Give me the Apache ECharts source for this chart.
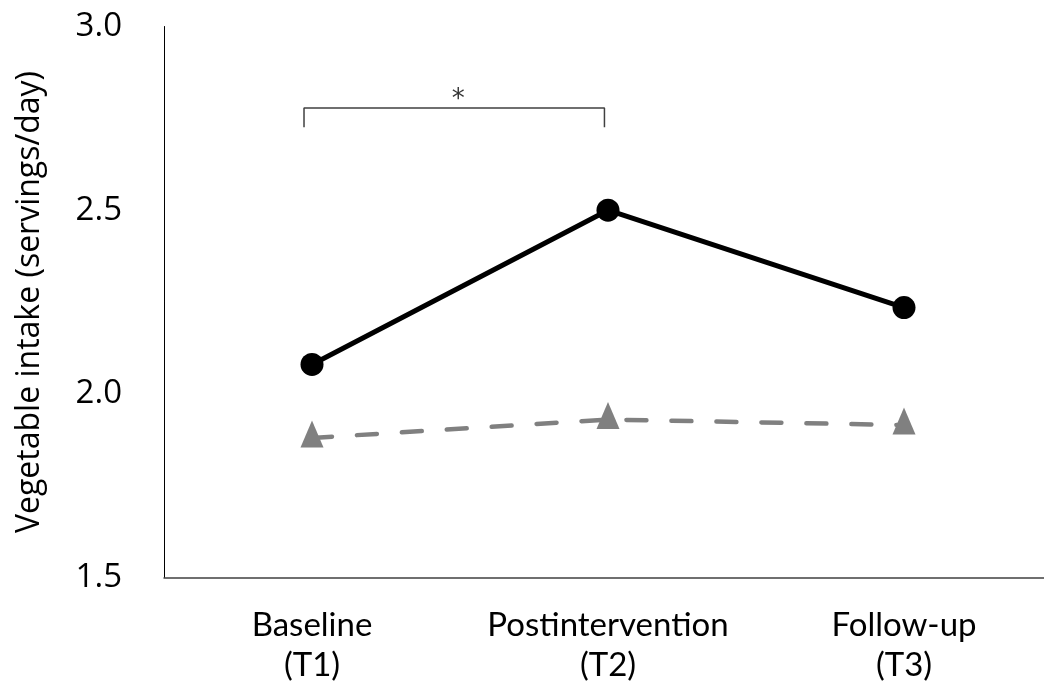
<!DOCTYPE html>
<html>
<head>
<meta charset="utf-8">
<script src="https://cdn.jsdelivr.net/npm/echarts@6/dist/echarts.min.js"></script>
<style>html,body{margin:0;padding:0;background:#fff}#c{width:1044px;height:693px}</style>
</head>
<body>
<div id="c"></div>
<script>
const categories = ['Baseline\n(T1)', 'Postintervention\n(T2)', 'Follow-up\n(T3)'];
const interventionValues = [2.08, 2.50, 2.235];
const controlValues = [1.88, 1.93, 1.915];
const yTicks = [1.5, 2.0, 2.5, 3.0];
const bracketX = [0.473, 1.488];
const bracketY = [2.726, 2.778];
const starPoint = [0.994, 2.80];
const yName = 'Vegetable intake (servings/day)';

const chart = echarts.init(document.getElementById('c'), null, {renderer: 'canvas'});
const sans = '"Open Sans", "Noto Sans", sans-serif';
const cat = 'Lato, "Noto Sans", sans-serif';
chart.setOption({
  animation: false,
  backgroundColor: '#fff',
  grid: {left: 164, right: -8, top: 26.5, bottom: 115.5, containLabel: false, outerBoundsMode: 'none'},
  xAxis: [{
    type: 'category',
    data: categories,
    boundaryGap: true,
    axisLine: {lineStyle: {color: '#404040', width: 1.5}},
    axisTick: {show: false},
    splitLine: {show: false},
    axisLabel: {fontSize: 33, lineHeight: 40, color: '#000', margin: 28, fontFamily: cat, interval: 0}
  }, {
    type: 'value', min: 0, max: 3, show: false
  }],
  yAxis: {
    type: 'value',
    min: yTicks[0], max: yTicks[yTicks.length - 1], interval: 0.5,
    axisLine: {show: true, lineStyle: {color: '#000', width: 1}},
    axisTick: {show: false},
    splitLine: {show: false},
    axisLabel: {fontSize: 33, color: '#000', margin: 42, fontFamily: sans, formatter: v => v.toFixed(1)},
    name: yName,
    nameLocation: 'middle',
    nameGap: 118,
    nameTextStyle: {fontSize: 32, color: '#000', fontFamily: sans}
  },
  series: [{
    type: 'line',
    data: controlValues,
    symbol: 'triangle',
    symbolSize: [23, 27],
    symbolOffset: [0, -4],
    lineStyle: {color: '#808080', width: 4.5, type: [20, 25], cap: 'round'},
    itemStyle: {color: '#808080'},
    z: 3
  }, {
    type: 'line',
    data: interventionValues,
    symbol: 'circle',
    symbolSize: 23,
    lineStyle: {color: '#000', width: 5},
    itemStyle: {color: '#000'},
    z: 4
  }, {
    type: 'line',
    xAxisIndex: 1,
    data: [[bracketX[0], bracketY[0]], [bracketX[0], bracketY[1]], [bracketX[1], bracketY[1]], [bracketX[1], bracketY[0]]],
    symbol: 'none',
    lineStyle: {color: '#404040', width: 1.5},
    silent: true
  }, {
    type: 'scatter',
    xAxisIndex: 1,
    data: [starPoint],
    symbolSize: 1,
    itemStyle: {color: 'rgba(0,0,0,0)'},
    label: {show: true, position: 'inside', formatter: '*', fontSize: 26, color: '#000', fontFamily: '"DejaVu Sans", sans-serif'}
  }]
});
</script>
</body>
</html>
